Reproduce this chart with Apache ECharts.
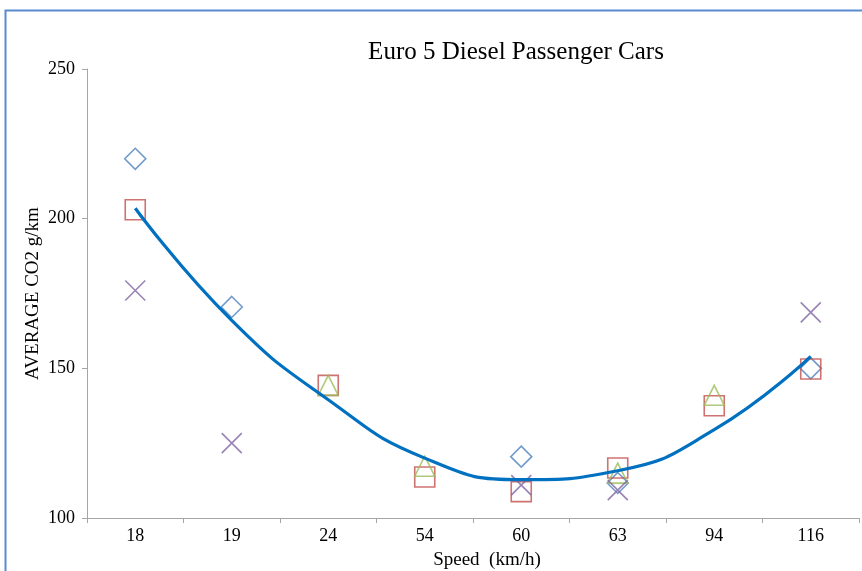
<!DOCTYPE html>
<html>
<head>
<meta charset="utf-8">
<script src="https://cdn.jsdelivr.net/npm/echarts@6/dist/echarts.min.js"></script>
<style>html,body{margin:0;padding:0;background:#fff;}#c{width:862px;height:571px;}</style>
</head>
<body>
<div id="c"></div>
<script>
const categories = ['18', '19', '24', '54', '60', '63', '94', '116'];
const diamondVals = [220, 170.5, '-', '-', 120.5, 111.7, '-', 150];
const squareVals = [203, '-', 144.3, 113.7, 108.8, 116.7, 137.5, 149.8];
const triangleVals = ['-', '-', 144.3, 117.3, '-', 115, 141, '-'];
const crossVals = [176, 125, '-', '-', 111, 109.3, '-', 168.7];
const trendVals = [203.5, 166, 139.5, 120, 112.8, 115.8, 129.5, 154];
const yTicks = { min: 100, max: 250, interval: 50 };

const font = 'Liberation Serif';
const chart = echarts.init(document.getElementById('c'), null, { renderer: 'canvas' });

function markerSeries(name, data, symbol, size, color) {
  return {
    name: name, type: 'scatter', data: data, symbol: symbol, symbolSize: size,
    itemStyle: { color: 'rgba(0,0,0,0)', borderColor: color, borderWidth: 1.6 },
    z: 3, silent: true
  };
}

chart.setOption({
  backgroundColor: '#fff',
  animation: false,
  title: {
    text: 'Euro 5 Diesel Passenger Cars',
    left: 511, top: 35, textAlign: 'center',
    textStyle: { fontFamily: font, fontSize: 25, fontWeight: 'normal', color: '#000' }
  },
  graphic: [{
    type: 'rect', shape: { x: 5.5, y: 10.5, width: 1000, height: 1000 },
    style: { fill: 'none', stroke: '#5a8ad0', lineWidth: 2 }, z: 10
  }],
  grid: { left: 87, right: 3, top: 69, bottom: 53, containLabel: false, outerBoundsMode: 'none' },
  xAxis: {
    type: 'category', data: categories, boundaryGap: true,
    name: 'Speed  (km/h)', nameLocation: 'middle', nameGap: 33, nameMoveOverlap: false,
    nameTextStyle: { fontFamily: font, fontSize: 19, color: '#000', padding: [0, 0, 0, 28] },
    axisLine: { lineStyle: { color: '#a6a6a6', width: 1 } },
    axisTick: { show: true, alignWithLabel: false, length: 5, lineStyle: { color: '#a6a6a6' } },
    axisLabel: { fontFamily: font, fontSize: 18, color: '#000', margin: 9 },
    splitLine: { show: false }
  },
  yAxis: {
    type: 'value', min: yTicks.min, max: yTicks.max, interval: yTicks.interval,
    name: 'AVERAGE CO2 g/km', nameLocation: 'middle', nameGap: 44, nameRotate: 90, nameMoveOverlap: false,
    nameTextStyle: { fontFamily: font, fontSize: 19, color: '#000' },
    axisLine: { show: true, lineStyle: { color: '#a6a6a6', width: 1 } },
    axisTick: { show: true, length: 5, lineStyle: { color: '#a6a6a6' } },
    axisLabel: { fontFamily: font, fontSize: 18, color: '#000', margin: 12 },
    splitLine: { show: false }
  },
  series: [
    markerSeries('diamond', diamondVals, 'diamond', [21, 21], '#4f81bd'),
    markerSeries('square', squareVals, 'rect', [20, 20], '#c0504d'),
    markerSeries('triangle', triangleVals, 'triangle', [20, 20], '#9bbb59'),
    markerSeries('cross', crossVals, 'path://M0,0L10,10M10,0L0,10', [20, 20], '#8064a2'),
    {
      name: 'trend', type: 'line', data: trendVals, smooth: 0.5, showSymbol: false,
      lineStyle: { color: '#0070c0', width: 3.2 }, z: 4, silent: true
    }
  ]
});
</script>
</body>
</html>
